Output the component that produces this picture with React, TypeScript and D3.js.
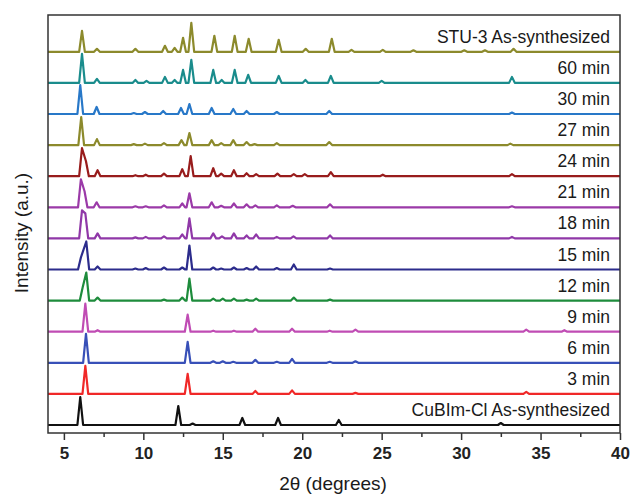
import React, { useEffect, useRef } from 'react';
import * as d3 from 'd3';

// 2θ range and tick marks
const THETA_RANGE: [number, number] = [4, 40];
const MAJOR_TICKS = [5, 10, 15, 20, 25, 30, 35, 40];
const MINOR_TICKS = [7.5, 12.5, 17.5, 22.5, 27.5, 32.5, 37.5];

// labels / colours, bottom trace first
const SERIES_LABELS = [
  'CuBIm-Cl As-synthesized',
  '3 min',
  '6 min',
  '9 min',
  '12 min',
  '15 min',
  '18 min',
  '21 min',
  '24 min',
  '27 min',
  '30 min',
  '60 min',
  'STU-3 As-synthesized',
];

const SERIES_COLORS = [
  '#111111',
  '#f02828',
  '#3850b8',
  '#c04cb4',
  '#1e8c3c',
  '#2c2c8c',
  '#9038a8',
  '#9b3aa8',
  '#981c1c',
  '#8c8a2c',
  '#2878c8',
  '#1a8c8c',
  '#8c8a2c',
];

// peaks: [2θ, intensity (a.u.)]
const cubimPeaks = [[6.03, 28], [12.2, 19], [13.1, 1.5], [16.23, 7], [18.48, 7], [22.3, 5], [32.5, 2]];
const min3Peaks = [[6.35, 28], [12.79, 20], [17.05, 3], [19.36, 3.5], [23.35, 1], [34.1, 2]];
const min6Peaks = [[6.39, 29], [12.79, 21], [14.4, 1.5], [15.0, 1.5], [15.66, 1], [17.05, 3], [18.4, 1], [19.36, 4], [21.73, 1], [23.35, 1.5]];
const min9Peaks = [[6.35, 28], [7.12, 1.5], [12.79, 17], [14.4, 1], [15.7, 1], [17.05, 3], [19.36, 3], [21.73, 1], [23.35, 2], [34.1, 2], [36.5, 1.5]];
const min12Peaks = [[6.18, 13], [6.41, 28], [7.12, 3], [11.3, 1], [12.45, 3], [12.9, 22], [14.4, 2], [15.0, 2], [15.7, 2], [16.5, 1], [17.1, 2], [19.47, 3], [21.75, 1]];
const min15Peaks = [[6.07, 12], [6.41, 28], [7.12, 3], [9.5, 1], [10.15, 1.5], [11.3, 2], [12.45, 2], [12.9, 24], [14.4, 2], [14.9, 1], [15.7, 2], [16.5, 1.5], [17.1, 3], [18.4, 1.5], [19.47, 5], [21.75, 1]];
const min18Peaks = [[6.14, 28], [6.35, 25], [7.12, 5], [9.5, 1], [10.15, 1.5], [11.3, 2], [12.45, 4], [12.9, 20], [14.4, 5], [14.95, 2], [15.7, 5], [16.5, 3], [17.1, 4], [18.4, 1.5], [19.45, 2], [21.75, 3], [33.2, 1.5]];
const min21Peaks = [[6.07, 28], [6.3, 16], [7.06, 5], [9.5, 1], [10.15, 1], [11.3, 2], [12.45, 4], [12.9, 14], [14.3, 5], [14.9, 1.5], [15.7, 4], [16.5, 3], [17.05, 2], [18.4, 2], [19.4, 1.5], [21.75, 3], [33.2, 1]];
const min24Peaks = [[6.14, 28], [6.39, 15], [7.12, 6], [9.5, 1], [10.15, 1.5], [11.3, 2.5], [12.45, 7], [12.98, 20], [14.4, 8], [14.9, 2.5], [15.7, 6], [16.5, 3], [17.1, 2], [18.44, 2.5], [19.47, 2], [20.16, 2], [21.8, 4], [25.07, 1.5], [33.2, 2]];
const min27Peaks = [[6.09, 28], [7.08, 6], [9.4, 1], [10.1, 1.5], [11.3, 2], [12.4, 5], [12.9, 12], [14.3, 5], [14.9, 2], [15.66, 5], [16.5, 3], [17.0, 1], [18.4, 2], [21.7, 3], [33.1, 1.5]];
const min30Peaks = [[6.03, 29], [7.06, 7], [9.4, 1], [10.1, 2], [11.25, 3], [12.37, 6], [12.9, 10], [14.3, 6], [15.66, 5], [16.5, 3], [18.4, 2], [21.7, 3], [33.2, 1.5]];
const min60Peaks = [[6.14, 29], [7.08, 4], [9.5, 3], [10.2, 2], [11.36, 6], [11.97, 3], [12.5, 13], [13.02, 23], [14.4, 13], [14.93, 3], [15.75, 13], [16.6, 8], [18.52, 7], [20.2, 3], [21.8, 7], [25.0, 2], [33.2, 6]];
const stu3Peaks = [[6.14, 21], [7.08, 3], [9.5, 3], [11.36, 6], [11.97, 4], [12.5, 14], [13.02, 29], [14.47, 16], [15.75, 16], [16.63, 13], [18.52, 12], [20.22, 3], [21.86, 13], [23.1, 2], [25.07, 2], [27.0, 1.5], [30.2, 1.5], [31.5, 1.5], [33.3, 3]];

const SERIES_PEAKS = [
  cubimPeaks, min3Peaks, min6Peaks, min9Peaks, min12Peaks, min15Peaks, min18Peaks,
  min21Peaks, min24Peaks, min27Peaks, min30Peaks, min60Peaks, stu3Peaks,
];

const OFFSET_STEP = 31.1; // vertical stacking offset (a.u.)
const PEAK_HALF_WIDTH = 0.18; // degrees

// vertices for one pattern: baseline, then each peak as a sharp reflection
const patternPoints = (peaks: number[][]) => {
  const pts: [number, number][] = [[THETA_RANGE[0], 0]];
  peaks.forEach(([t, h], i) => {
    const prev = peaks[i - 1];
    const next = peaks[i + 1];
    if (!prev || prev[0] + PEAK_HALF_WIDTH <= t - PEAK_HALF_WIDTH) pts.push([t - PEAK_HALF_WIDTH, 0]);
    pts.push([t, h]);
    if (!next || t + PEAK_HALF_WIDTH <= next[0] - PEAK_HALF_WIDTH) pts.push([t + PEAK_HALF_WIDTH, 0]);
  });
  pts.push([THETA_RANGE[1], 0]);
  return pts;
};

const XrdChart = () => {
  const svgRef = useRef<SVGSVGElement>(null);

  useEffect(() => {
    const width = 630;
    const height = 496;
    const margin = { top: 15, right: 10, bottom: 63, left: 48 };

    const svg = d3.select(svgRef.current);
    svg.selectAll('*').remove();
    svg.attr('width', width).attr('height', height);

    const x = d3.scaleLinear()
      .domain(THETA_RANGE)
      .range([margin.left, width - margin.right]);

    const y = d3.scaleLinear()
      .domain([-8, 410])
      .range([height - margin.bottom, margin.top]);

    const line = d3.line<[number, number]>()
      .x(d => x(d[0]))
      .y(d => y(d[1]));

    // traces
    SERIES_PEAKS.forEach((peaks, i) => {
      const off = i * OFFSET_STEP;
      const pts = patternPoints(peaks).map(([t, v]) => [t, v + off] as [number, number]);
      svg.append('path')
        .datum(pts)
        .attr('fill', 'none')
        .attr('stroke', SERIES_COLORS[i])
        .attr('stroke-width', 2.2)
        .attr('stroke-linejoin', 'round')
        .attr('d', line);

      svg.append('text')
        .attr('x', 610)
        .attr('y', y(off) - 9)
        .attr('text-anchor', 'end')
        .attr('font-family', 'Arial, "Liberation Sans", sans-serif')
        .attr('font-size', 17.5)
        .attr('fill', '#1a1a1a')
        .text(SERIES_LABELS[i]);
    });

    // x axis, major + minor ticks
    const xAxis = svg.append('g')
      .attr('transform', `translate(0, ${height - margin.bottom})`)
      .call(d3.axisBottom(x).tickValues(MAJOR_TICKS).tickSize(7).tickPadding(7).tickFormat(d3.format('d')));
    xAxis.select('.domain').remove();
    xAxis.selectAll('line').attr('stroke', '#333').attr('stroke-width', 1.5);
    xAxis.selectAll('text')
      .attr('font-family', 'Arial, "Liberation Sans", sans-serif')
      .attr('font-size', 17)
      .attr('font-weight', 'bold')
      .attr('fill', '#222');

    const minor = svg.append('g')
      .attr('transform', `translate(0, ${height - margin.bottom})`)
      .call(d3.axisBottom(x).tickValues(MINOR_TICKS).tickSize(4).tickFormat(() => ''));
    minor.select('.domain').remove();
    minor.selectAll('line').attr('stroke', '#333').attr('stroke-width', 1.5);

    // frame
    svg.append('rect')
      .attr('x', margin.left)
      .attr('y', margin.top)
      .attr('width', width - margin.left - margin.right)
      .attr('height', height - margin.top - margin.bottom)
      .attr('fill', 'none')
      .attr('stroke', '#333')
      .attr('stroke-width', 1.5);

    // axis titles
    svg.append('text')
      .attr('x', 333)
      .attr('y', 490)
      .attr('text-anchor', 'middle')
      .attr('font-family', 'Arial, "Liberation Sans", sans-serif')
      .attr('font-size', 19)
      .attr('fill', '#1a1a1a')
      .text('2θ (degrees)');

    svg.append('text')
      .attr('transform', 'translate(28, 233) rotate(-90)')
      .attr('text-anchor', 'middle')
      .attr('font-family', 'Arial, "Liberation Sans", sans-serif')
      .attr('font-size', 19)
      .attr('fill', '#1a1a1a')
      .text('Intensity (a.u.)');
  }, []);

  return (
    <svg ref={svgRef} style={{ position: 'absolute', left: 0, top: 0, background: '#fff' }}></svg>
  );
};

export default function App() {
  return <XrdChart />;
}
